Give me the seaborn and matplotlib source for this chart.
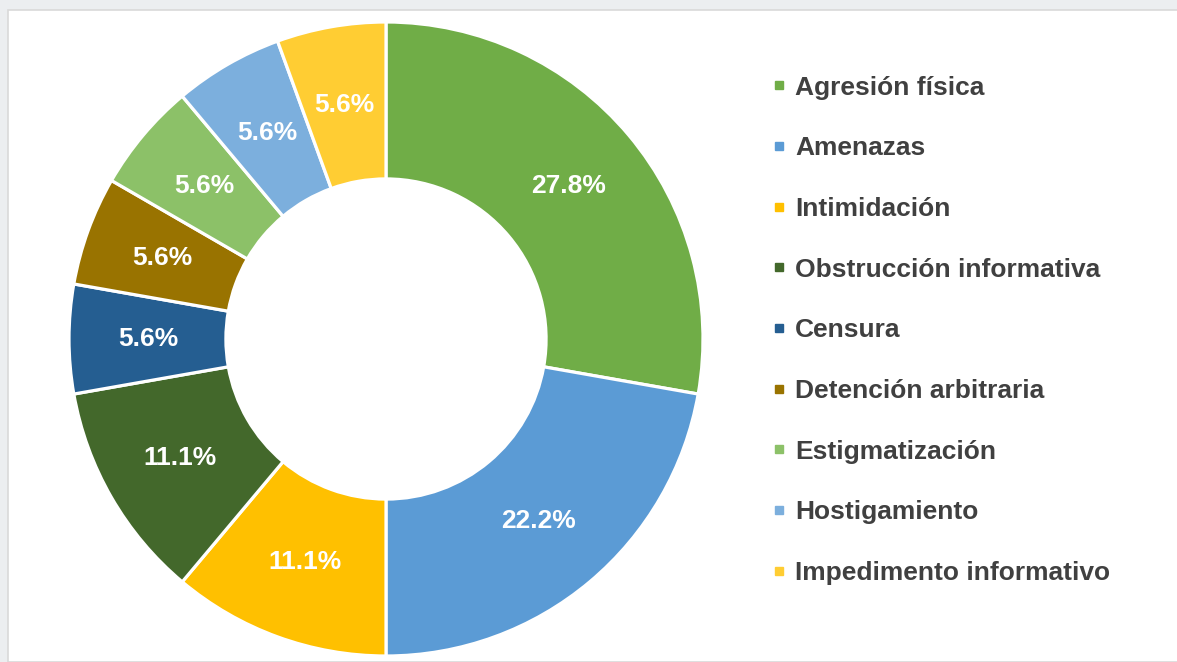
import matplotlib
matplotlib.use("Agg")
import matplotlib.pyplot as plt
from matplotlib.lines import Line2D
from matplotlib.patches import Rectangle
import seaborn as sns

categories = ["Agresión física", "Amenazas", "Intimidación", "Obstrucción informativa",
              "Censura", "Detención arbitraria", "Estigmatización", "Hostigamiento",
              "Impedimento informativo"]
counts = [5, 4, 2, 2, 1, 1, 1, 1, 1]
colors = ["#70AD47", "#5B9BD5", "#FFC000", "#43682B", "#255E91",
          "#997300", "#8CC168", "#7CAFDD", "#FFCD33"]

sns.set_theme(style="white")
plt.rcParams["font.family"] = ["Liberation Sans", "DejaVu Sans"]

fig = plt.figure(figsize=(11.77, 6.62), dpi=100)
fig.patch.set_facecolor("#eceef0")
# white panel of the screenshot
fig.add_artist(Rectangle((8 / 1177, 0), 1.0, 1 - 10 / 662, transform=fig.transFigure,
                         facecolor="white", edgecolor="#d9d9d9", linewidth=1.2, zorder=0))

ax = fig.add_axes([69 / 1177, 6 / 662, 634 / 1177, 634 / 662])
ax.set_facecolor("none")
wedges, texts, autotexts = ax.pie(
    counts, colors=sns.color_palette(colors), startangle=90, counterclock=False,
    radius=1.0, autopct="%.1f%%", pctdistance=0.75,
    wedgeprops=dict(width=0.495, edgecolor="white", linewidth=2.3),
    textprops=dict(color="white", fontsize=19, fontweight="bold"))
ax.set_xlim(-1, 1)
ax.set_ylim(-1, 1)
ax.set_aspect("equal")
ax.axis("off")

handles = [Line2D([0], [0], marker="s", linestyle="none", markersize=5.5,
                  markerfacecolor=c, markeredgecolor=c) for c in colors]
leg = fig.legend(handles, categories, loc="upper left",
                 bbox_to_anchor=(762 / 1177, 1 - 65 / 662), frameon=False,
                 prop=dict(size=19, weight="bold"), labelspacing=1.39,
                 handlelength=0.5, handletextpad=0.35, borderaxespad=0)
for t in leg.get_texts():
    t.set_color("#404040")

fig.savefig("out.png", dpi=100, facecolor=fig.get_facecolor())
